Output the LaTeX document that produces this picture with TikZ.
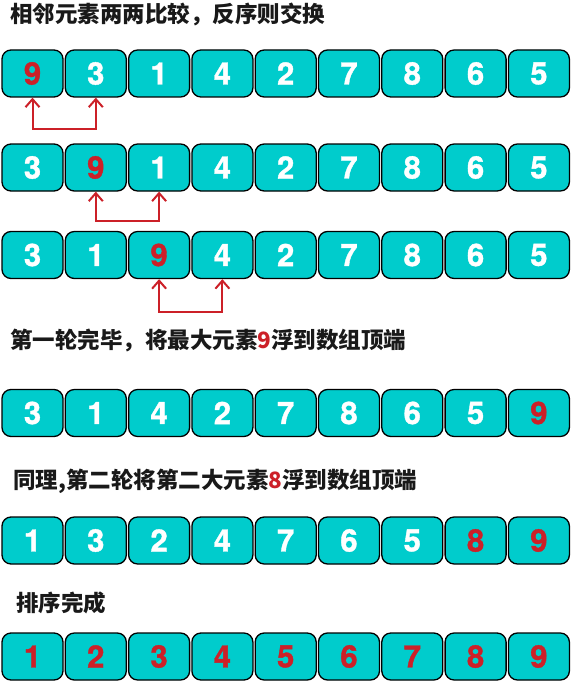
\documentclass[tikz,border=0pt]{standalone}
\usepackage{fontspec}
\setmainfont{Liberation Sans}
\newfontfamily\numfont{TeX Gyre Heros}[BoldFeatures={FakeBold=1.2}]
\newfontfamily\cjk{Noto Sans CJK SC}
\usetikzlibrary{arrows.meta}
\definecolor{cellfill}{RGB}{0,204,204}
\definecolor{hotred}{RGB}{204,32,40}

\begin{document}
\begin{tikzpicture}[
  x=1pt, y=-1pt,
  cell/.style={draw=black, line width=1.3pt, rounded corners=9pt, fill=cellfill,
    minimum width=61pt, minimum height=47pt, inner sep=0pt, text=white,
    font=\numfont\bfseries\fontsize{31}{31}\selectfont},
  hot/.style={cell, text=hotred},
  caption/.style={anchor=west, inner sep=0pt, text=black!90,
    font=\cjk\bfseries\fontsize{22.5}{22.5}\selectfont},
  swaparrow/.style={{Straight Barb[length=8pt,width=14pt]}-{Straight Barb[length=8pt,width=14pt]},
    draw=hotred, line width=2pt}
]
\useasboundingbox (0,0) rectangle (572,682);

\node[caption] (t1) at (10,14) {相邻元素两两比较，反序则交换};

% three compare steps
\foreach \v/\s [count=\i] in {9/hot,3/cell,1/cell,4/cell,2/cell,7/cell,8/cell,6/cell,5/cell}
  \node[\s] (a\i) at ({32.5+63.3*(\i-1)},73.5) {\v};
\foreach \v/\s [count=\i] in {3/cell,9/hot,1/cell,4/cell,2/cell,7/cell,8/cell,6/cell,5/cell}
  \node[\s] (b\i) at ({32.5+63.3*(\i-1)},167.5) {\v};
\foreach \v/\s [count=\i] in {3/cell,1/cell,9/hot,4/cell,2/cell,7/cell,8/cell,6/cell,5/cell}
  \node[\s] (c\i) at ({32.5+63.3*(\i-1)},255) {\v};

\draw[swaparrow] (a1.south) -- ++(0,31) -| (a2.south);
\draw[swaparrow] (b2.south) -- ++(0,29) -| (b3.south);
\draw[swaparrow] (c3.south) -- ++(0,33) -| (c4.south);

\node[caption] (t2) at (10,340) {第一轮完毕，将最大元素\textcolor{hotred}{9}浮到数组顶端};
\foreach \v/\s [count=\i] in {3/cell,1/cell,4/cell,2/cell,7/cell,8/cell,6/cell,5/cell,9/hot}
  \node[\s] (d\i) at ({32.5+63.3*(\i-1)},413) {\v};

\node[caption] (t3) at (13,481) {同理,第二轮将第二大元素\textcolor{hotred}{8}浮到数组顶端};
\foreach \v/\s [count=\i] in {1/cell,3/cell,2/cell,4/cell,7/cell,6/cell,5/cell,8/hot,9/hot}
  \node[\s] (e\i) at ({32.5+63.3*(\i-1)},540.5) {\v};

\node[caption] (t4) at (16,603) {排序完成};
\foreach \v [count=\i] in {1,...,9}
  \node[hot] (f\i) at ({32.5+63.3*(\i-1)},656.5) {\v};
\end{tikzpicture}
\end{document}
